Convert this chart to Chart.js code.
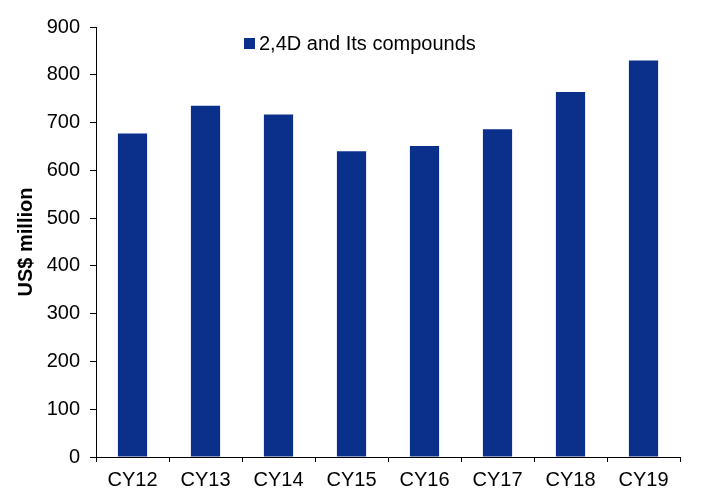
<!DOCTYPE html>
<html>
<head>
<meta charset="utf-8">
<script src="https://cdn.jsdelivr.net/npm/chart.js@4"></script>
<style>
  html, body { margin: 0; padding: 0; background: #fff; }
  #wrap { width: 704px; height: 489px; }
</style>
</head>
<body>
<div id="wrap"><canvas id="chart" width="704" height="489"></canvas></div>
<script>
// data
const years = ["CY12", "CY13", "CY14", "CY15", "CY16", "CY17", "CY18", "CY19"];
const values = [677, 735, 717, 640, 651, 686, 764, 830];
const seriesName = "2,4D and Its compounds";
const yTicks = [0, 100, 200, 300, 400, 500, 600, 700, 800, 900];

const barColor = "#0B308C";
const fontFamily = "'Liberation Sans', Arial, sans-serif";

// legend drawn by hand so it sits inside the plot like the original
const legendInside = {
  id: "legendInside",
  afterDraw(chart) {
    const ctx = chart.ctx;
    const ds = chart.data.datasets[0];
    ctx.save();
    ctx.fillStyle = ds.backgroundColor;
    ctx.fillRect(244, 38, 11, 11);
    ctx.fillStyle = "#000";
    ctx.font = "20px " + fontFamily;
    ctx.textBaseline = "middle";
    ctx.fillText(ds.label, 259, 44);
    ctx.restore();
  }
};

const ctx = document.getElementById("chart").getContext("2d");
new Chart(ctx, {
  type: "bar",
  data: {
    labels: years,
    datasets: [{
      label: seriesName,
      data: values,
      backgroundColor: barColor,
      borderWidth: 0,
      barPercentage: 0.4,
      categoryPercentage: 1
    }]
  },
  options: {
    responsive: false,
    animation: false,
    layout: { padding: { top: 27, right: 24, left: 0, bottom: 0 } },
    plugins: {
      legend: { display: false },
      tooltip: { enabled: false }
    },
    scales: {
      x: {
        afterFit: (scale) => { scale.height = 32; },
        grid: {
          display: true,
          drawOnChartArea: false,
          offset: true,
          tickLength: 5,
          color: "#000"
        },
        border: { color: "#000", width: 1 },
        ticks: {
          color: "#000",
          padding: 6,
          maxRotation: 0,
          font: { family: fontFamily, size: 20 }
        }
      },
      y: {
        min: 0,
        max: 900,
        afterFit: (scale) => { scale.width = 96; },
        afterBuildTicks: (scale) => {
          scale.ticks = yTicks.map((v) => ({ value: v }));
        },
        grid: {
          display: true,
          drawOnChartArea: false,
          tickLength: 6,
          color: "#000"
        },
        border: { color: "#000", width: 1 },
        title: {
          display: true,
          text: "US$ million",
          color: "#000",
          padding: { top: 14, bottom: 0 },
          font: { family: fontFamily, size: 20, weight: "bold" }
        },
        ticks: {
          color: "#000",
          padding: 10,
          font: { family: fontFamily, size: 20 }
        }
      }
    }
  },
  plugins: [legendInside]
});
</script>
</body>
</html>
